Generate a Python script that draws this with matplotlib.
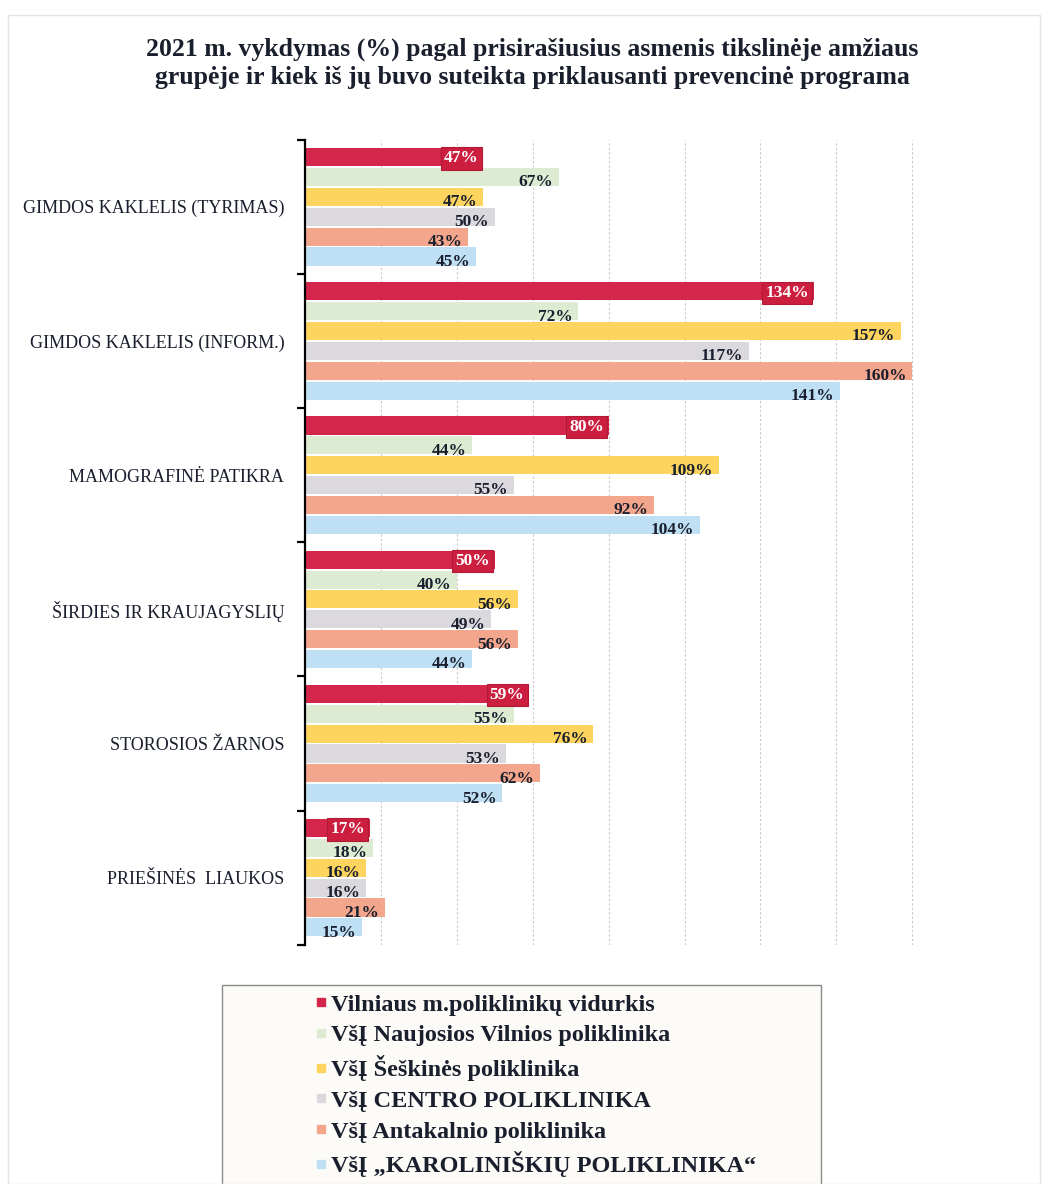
import numpy as np
import matplotlib
matplotlib.use("Agg")
import matplotlib.pyplot as plt
from matplotlib.lines import Line2D
from matplotlib.patches import Rectangle

plt.rcParams['font.family'] = ['Liberation Serif', 'DejaVu Serif']

categories = ["GIMDOS KAKLELIS (TYRIMAS)", "GIMDOS KAKLELIS (INFORM.)",
              "MAMOGRAFINĖ PATIKRA", "ŠIRDIES IR KRAUJAGYSLIŲ",
              "STOROSIOS ŽARNOS", "PRIEŠINĖS  LIAUKOS"]
series_names = ["Vilniaus m.poliklinikų vidurkis",
                "VšĮ Naujosios Vilnios poliklinika",
                "VšĮ Šeškinės poliklinika",
                "VšĮ CENTRO POLIKLINIKA",
                "VšĮ Antakalnio poliklinika",
                "VšĮ „KAROLINIŠKIŲ POLIKLINIKA“"]
vidurkis = [47, 134, 80, 50, 59, 17]
naujoji_vilnia = [67, 72, 44, 40, 55, 18]
seskine = [47, 157, 109, 56, 76, 16]
centro = [50, 117, 55, 49, 53, 16]
antakalnis = [43, 160, 92, 56, 62, 21]
karoliniskes = [45, 141, 104, 44, 52, 15]
values = [vidurkis, naujoji_vilnia, seskine, centro, antakalnis, karoliniskes]
colors = ["#d3264a", "#dcebd2", "#fcd45e", "#dbd8de", "#f4a68c", "#bfdff5"]

fig = plt.figure(figsize=(10.48, 11.84), dpi=100)
ax = fig.add_axes([0.291, 0.202, 0.652, 0.68])

n_cat = len(categories)
step = 0.148
bh = 0.135
y0 = np.arange(n_cat)
for j, (vals, col) in enumerate(zip(values, colors)):
    ys = y0 - 0.37 + j * step
    ax.barh(ys, vals, height=bh, color=col, zorder=2)
    for y, v in zip(ys, vals):
        if j == 0:
            ax.text(v - 1.2, y + 0.01, f"{v}%", ha='right', va='center',
                    fontsize=12.5, fontweight='bold', color='white', zorder=4,
                    bbox=dict(boxstyle='square,pad=0.18', fc='#cc1f40',
                              ec='#b01a36', lw=0.8))
        else:
            ax.text(v - 1.5, y + 0.04, f"{v}%", ha='right', va='center',
                    fontsize=12.5, fontweight='bold', color='#1a1f2e', zorder=4)

ax.set_xlim(0, 180)
ax.set_ylim(n_cat - 0.5, -0.5)
ax.set_xticks(np.arange(0, 181, 20))
ax.xaxis.grid(True, color='#c8c8c8', linestyle=(0, (2, 2)), lw=0.8, zorder=0)
ax.tick_params(axis='x', length=0, labelbottom=False)
for s in ['top', 'right', 'bottom']:
    ax.spines[s].set_visible(False)
ax.spines['left'].set_linewidth(1.6)
ax.set_yticks(y0)
ax.set_yticklabels(categories, fontsize=13, color='#1a1f2e')
ax.tick_params(axis='y', length=0, pad=15)
ax.set_yticks(np.arange(-0.5, n_cat, 1), minor=True)
ax.tick_params(axis='y', which='minor', length=6, width=1.6, direction='out')

fig.text(0.508, 0.968, "2021 m. vykdymas (%) pagal prisirašiusius asmenis tikslinėje amžiaus\n"
         "grupėje ir kiek iš jų buvo suteikta priklausanti prevencinė programa",
         ha='center', va='top', fontsize=18.5, fontweight='bold', color='#1a1f2e',
         linespacing=1.25)

# legend frame
fig.patches.append(Rectangle((0.212, -0.01), 0.571, 0.178, transform=fig.transFigure,
                             fc='#fdfbf8', ec='#8a8a8a', lw=1.0, zorder=0))
handles = [Line2D([], [], marker='s', ls='', color=c, markersize=6) for c in colors]
fig.legend(handles, series_names, loc='upper left', bbox_to_anchor=(0.287, 0.171),
           bbox_transform=fig.transFigure,
           frameon=False, prop=dict(size=17.5, weight='bold'), labelspacing=0.36,
           handletextpad=0.05, handlelength=0.7, borderpad=0, labelcolor='#1a1f2e')

fig.patches.append(Rectangle((0.008, 0.0), 0.984, 0.987, transform=fig.transFigure,
                             fc='none', ec='#e4e4e4', lw=1.0))

fig.savefig("out.png", dpi=100, facecolor='white')
